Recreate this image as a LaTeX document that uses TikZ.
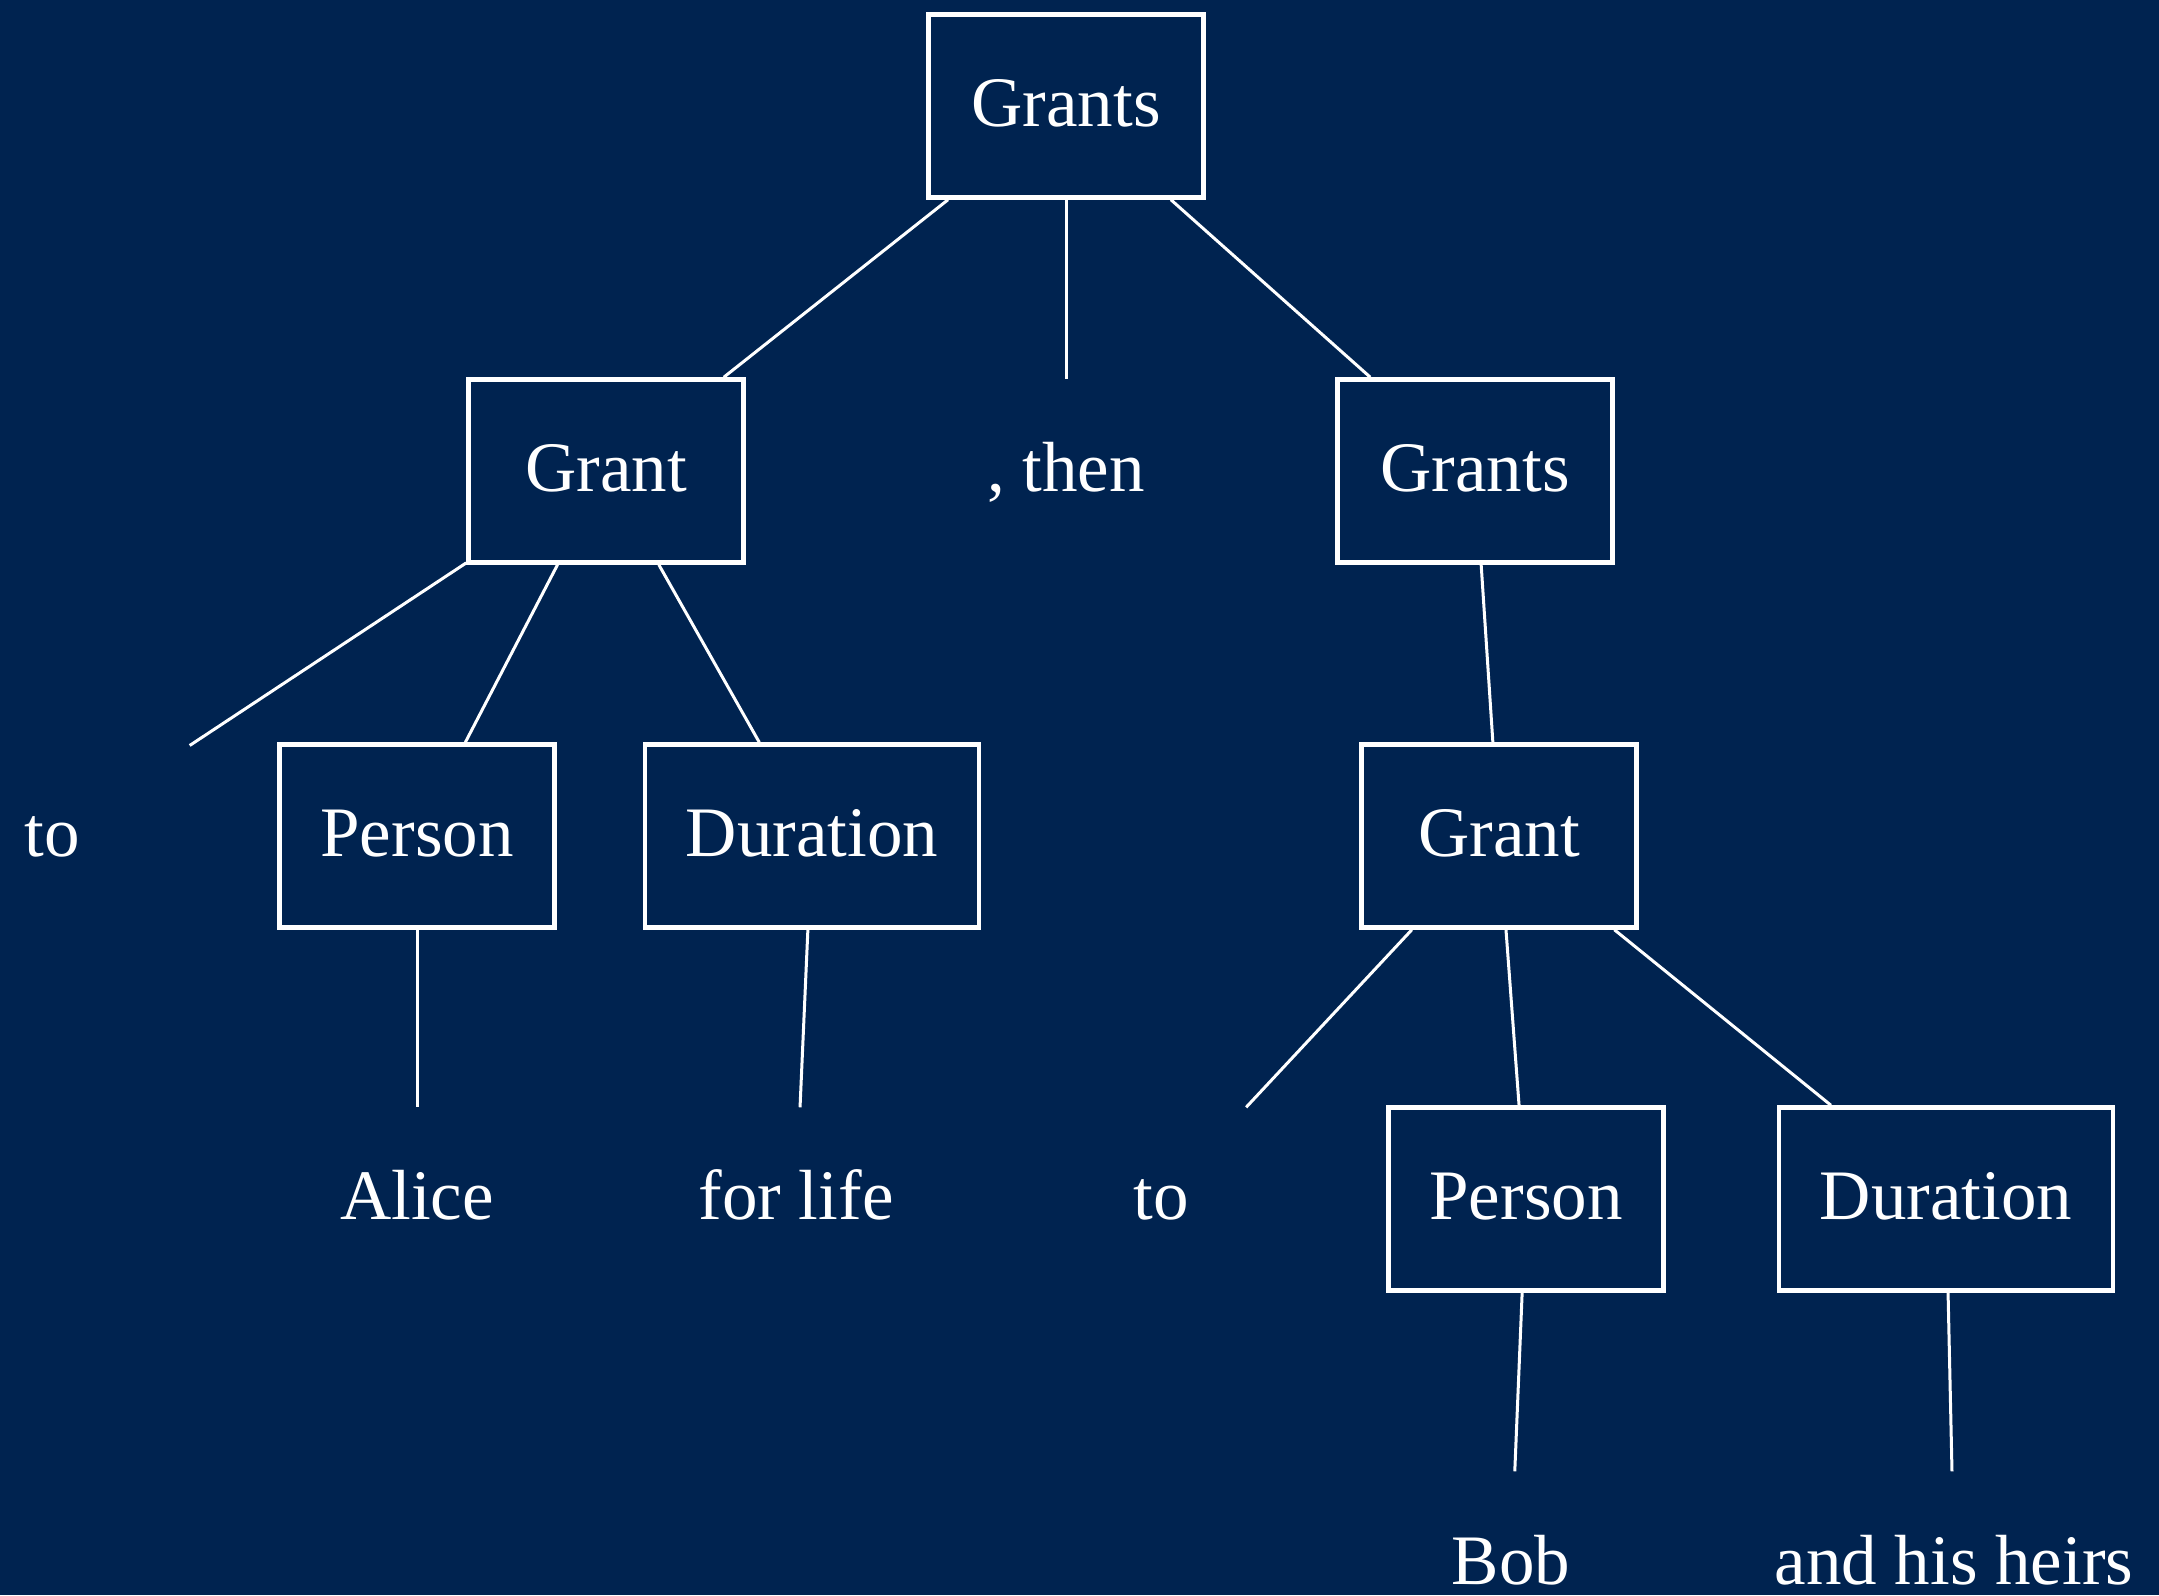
\documentclass[tikz,border=0pt]{standalone}
\usepackage{fontspec}
\setmainfont{Liberation Serif}
\usepackage{tikz}
\definecolor{navy}{RGB}{0,35,80}

\begin{document}
\begin{tikzpicture}[x=1pt, y=1pt,
  font=\fontsize{71}{85}\selectfont, text=white,
  cat/.style={draw=white, line width=4.5pt, minimum width=275pt,
              minimum height=183pt, inner xsep=41pt,
              text height=46pt, text depth=4pt},
  leaf/.style={minimum width=275pt, minimum height=183pt, inner xsep=41pt,
               text height=46pt, text depth=4pt},
  branch/.style={draw=white, line width=3pt}]

\fill[navy] (0,0) rectangle (2159,1595);
\useasboundingbox (0,0) rectangle (2159,1595);

\node[cat] (gs) at (1066,1489) {Grants};

\node[cat] (gl) at (606,1124) {Grant};
\node[leaf] (then) at (1066,1124) {, then};
\node[cat] (gsr) at (1475,1124) {Grants};

\node[leaf] (toa) at (52,759) {to};
\node[cat] (pa) at (417,759) {Person};
\node[cat] (da) at (812,759) {Duration};
\node[cat] (gr) at (1499,759) {Grant};

\node[leaf] (alice) at (417,396) {Alice};
\node[leaf] (life) at (796,396) {for life};
\node[leaf] (tob) at (1161,396) {to};
\node[cat] (pb) at (1526,396) {Person};
\node[cat] (db) at (1946,396) {Duration};

\node[leaf] (bob) at (1511,32) {Bob};
\node[leaf] (heirs) at (1954,32) {and his heirs};

% first grant
\draw[branch] (gs) -- (gl);
\draw[branch] (gs) -- (then);
\draw[branch] (gs) -- (gsr);
\draw[branch] (gl) -- (toa);
\draw[branch] (gl) -- (pa);
\draw[branch] (gl) -- (da);
\draw[branch] (pa) -- (alice);
\draw[branch] (da) -- (life);
% second grant
\draw[branch] (gsr) -- (gr);
\draw[branch] (gr) -- (tob);
\draw[branch] (gr) -- (pb);
\draw[branch] (gr) -- (db);
\draw[branch] (pb) -- (bob);
\draw[branch] (db) -- (heirs);
\end{tikzpicture}
\end{document}
